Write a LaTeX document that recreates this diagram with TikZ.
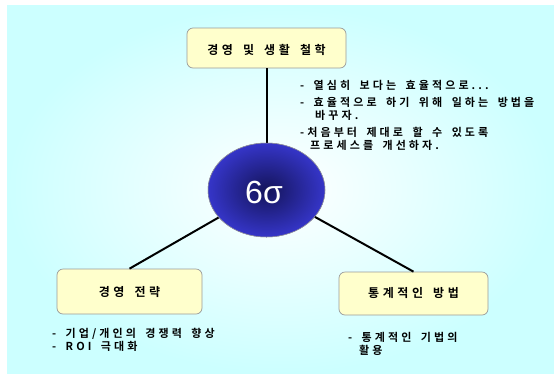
\documentclass[tikz,border=0pt]{standalone}
\usepackage{fontspec}
\setmainfont{Liberation Sans}
\newfontfamily\kr[LetterSpace=28,WordSpace=1.7]{Noto Sans CJK KR Bold}
\newfontfamily\krbox[LetterSpace=30,WordSpace=1.6]{Noto Sans CJK KR Bold}
\newfontfamily\sixfont{Liberation Sans}
\usetikzlibrary{shapes.geometric}
\definecolor{bgcyan}{HTML}{CCFFFF}
\definecolor{boxfill}{HTML}{FFFFCC}
\definecolor{boxline}{HTML}{9A9A9A}
\definecolor{ellin}{HTML}{14145A}
\definecolor{ellout}{HTML}{3535C8}
\tikzset{
  topicbox/.style={draw=boxline, line width=0.7pt, fill=boxfill, rounded corners=6pt, inner sep=0pt},
  boxtext/.style={font=\krbox\fontsize{12}{14}\selectfont},
  notetext/.style={font=\kr\fontsize{11}{13}\selectfont, anchor=base west, inner sep=0pt},
  link/.style={line width=2pt, black},
}
\begin{document}
\begin{tikzpicture}[x=1pt,y=-1pt]
\useasboundingbox (0,0) rectangle (554,373);
\fill[white] (0,0) rectangle (554,373);
\shade[inner color=white, outer color=bgcyan] (7,5) rectangle (554,373);
% boxes
\node[topicbox, minimum width=159pt, minimum height=40pt] (philo) at (266.5,48) {};
\node[boxtext] at (266.5,50) {경영 및 생활 철학};
\node[topicbox, minimum width=145pt, minimum height=45pt] (strat) at (129.5,291.5) {};
\node[boxtext] at (strat.center) {경영 전략};
\node[topicbox, minimum width=149pt, minimum height=43pt] (stat) at (413.5,293.5) {};
\node[boxtext] at (stat.center) {통계적인 방법};
% centre ellipse
\node[ellipse, draw=boxline, line width=0.5pt, inner color=ellin, outer color=ellout,
      minimum width=117pt, minimum height=94pt, inner sep=0pt] (six) at (266.5,190) {};
% connectors
\draw[link] (philo.south) -- (six);
\draw[link] (strat.north) -- (six);
\draw[link] (stat.north) -- (six);
\node[ellipse, draw=boxline, line width=0.5pt, inner color=ellin, outer color=ellout,
      minimum width=117pt, minimum height=94pt, inner sep=0pt] at (six.center) {};
\node[font=\sixfont\fontsize{32}{36}\selectfont, text=white] at (264,192) {6σ};
% notes
\node[notetext] (n1) at (300,89) {- 열심히 보다는 효율적으로...};
\node[notetext] (n2) at (300,106) {- 효율적으로 하기 위해 일하는 방법을};
\node[notetext] (n3) at (315,119) {바꾸자.};
\node[notetext] (n4) at (300,136) {-처음부터 제대로 할 수 있도록};
\node[notetext] (n5) at (310,149) {프로세스를 개선하자.};
\node[notetext] (m1) at (52,337) {- 기업/개인의 경쟁력 향상};
\node[notetext] (m2) at (52,350) {- ROI 극대화};
\node[notetext] (s1) at (348,341) {- 통계적인 기법의};
\node[notetext] (s2) at (359,354) {활용};
\end{tikzpicture}
\end{document}
